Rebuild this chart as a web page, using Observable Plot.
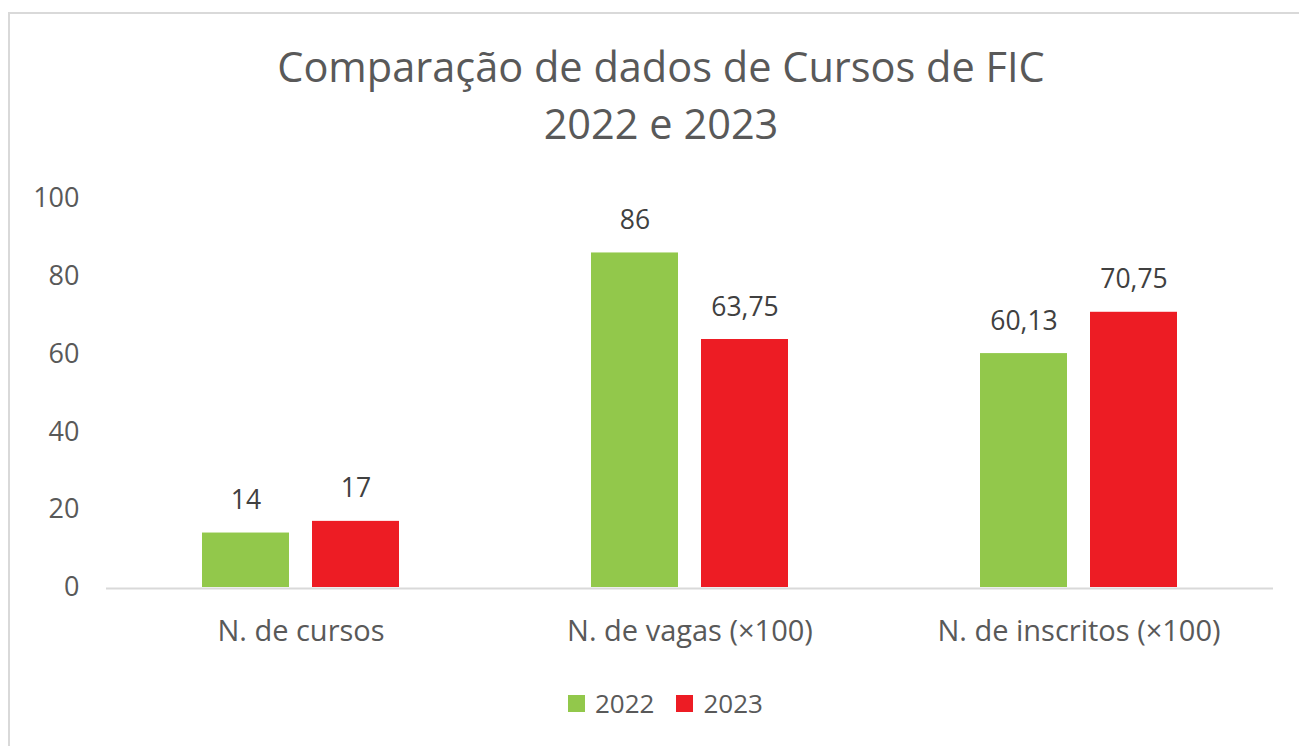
<!DOCTYPE html>
<html><head><meta charset="utf-8">
<script src="https://cdn.jsdelivr.net/npm/d3@7"></script>
<script src="https://cdn.jsdelivr.net/npm/@observablehq/plot@0.6"></script>
<style>
html,body{margin:0;padding:0;background:#fff;}
body{width:1299px;height:746px;overflow:hidden;position:relative;font-family:"Open Sans",sans-serif;}
#frame{position:absolute;left:8px;top:12px;width:1320px;height:800px;border-top:2px solid #d9d9d9;border-left:2px solid #d9d9d9;box-sizing:border-box;}
.tline{position:absolute;left:0;width:1322px;text-align:center;font-size:41.5px;line-height:41.5px;color:#595959;white-space:nowrap;}
#chart{position:absolute;left:0;top:170px;}
#legend{position:absolute;left:568px;top:690px;height:26px;display:flex;align-items:center;font-size:26px;color:#595959;}
.sw{width:17px;height:17px;margin-right:10px;}
.lt{line-height:26px;}
</style>
</head><body>
<div id="frame"></div>
<div class="tline" style="top:46px">Comparação de dados de Cursos de FIC</div>
<div class="tline" style="top:103px">2022 e 2023</div>
<div id="chart"></div>
<div id="legend"></div>
<script>
const categories = ["N. de cursos", "N. de vagas (×100)", "N. de inscritos (×100)"];
const years = ["2022", "2023"];
const values2022 = [14, 86, 60.13];
const values2023 = [17, 63.75, 70.75];
const colors = ["#92C84B", "#ED1C24"];
const yTicks = [0, 20, 40, 60, 80, 100];

const data = categories.flatMap((c, i) => [
  {category: c, year: years[0], value: values2022[i]},
  {category: c, year: years[1], value: values2023[i]}
]);

const fmt = v => String(v).replace(".", ",");

const chart = Plot.plot({
  width: 1299, height: 487,
  marginLeft: 106, marginRight: 26, marginTop: 28, marginBottom: 70,
  style: {fontFamily: "Open Sans", fontSize: "25px", color: "#595959", background: "transparent", overflow: "visible"},
  fx: {domain: categories, padding: 0},
  x: {domain: years, axis: null, paddingInner: 0.207, paddingOuter: 0.856},
  y: {domain: [0, 100]},
  color: {domain: years, range: colors},
  marks: [
    Plot.axisY(yTicks, {tickSize: 0, tickPadding: 27, label: null, fontSize: 27, fill: "#595959"}),
    Plot.axisFx({anchor: "bottom", tickSize: 0, tickPadding: 33, label: null, fontSize: 29, fill: "#595959"}),
    Plot.barY(data, {fx: "category", x: "year", y: "value", fill: "year"}),
    Plot.ruleY([0], {stroke: "#d9d9d9", strokeWidth: 2, dy: 1}),
    Plot.text(data, {fx: "category", x: "year", y: "value", text: d => fmt(d.value), dy: -24, lineAnchor: "bottom", fontSize: 26.5, fill: "#404040"})
  ]
});
document.getElementById("chart").appendChild(chart);

const legend = document.getElementById("legend");
years.forEach((y, i) => {
  const sw = document.createElement("span");
  sw.className = "sw";
  sw.style.background = colors[i];
  const t = document.createElement("span");
  t.className = "lt";
  t.textContent = y;
  if (i > 0) sw.style.marginLeft = "22px";
  legend.appendChild(sw);
  legend.appendChild(t);
});
</script>
</body></html>
